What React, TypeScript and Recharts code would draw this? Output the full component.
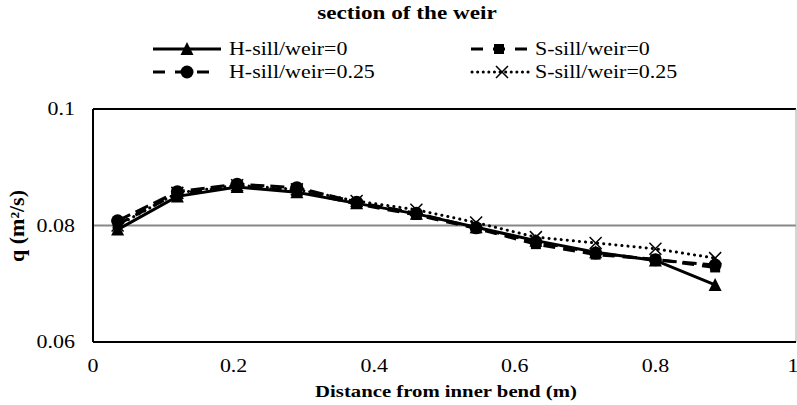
import React from "react";
import { LineChart, Line, XAxis, YAxis, CartesianGrid, ReferenceLine } from "recharts";

const distances = [0.035, 0.12, 0.205, 0.29, 0.375, 0.46, 0.545, 0.63, 0.715, 0.8, 0.885];
const hSill0 = [0.0793, 0.085, 0.0866, 0.0857, 0.0838, 0.082, 0.0797, 0.0774, 0.0754, 0.074, 0.0698];
const sSill0 = [0.0802, 0.0855, 0.0867, 0.086, 0.0837, 0.0818, 0.0795, 0.0768, 0.075, 0.0742, 0.0728];
const hSill025 = [0.0808, 0.0858, 0.0871, 0.0865, 0.084, 0.0821, 0.0796, 0.0772, 0.0753, 0.0741, 0.0732];
const sSill025 = [0.08, 0.0856, 0.0869, 0.0862, 0.0842, 0.0827, 0.0805, 0.078, 0.077, 0.076, 0.0744];
const xTicks = [0, 0.2, 0.4, 0.6, 0.8, 1];
const yTicks = [0.06, 0.08, 0.1];
const seriesNames = ["H-sill/weir=0", "S-sill/weir=0", "H-sill/weir=0.25", "S-sill/weir=0.25"];
const chartTitle = "section of the weir";
const xTitle = "Distance from inner bend (m)";
const yTitle = "q (m²/s)";

const data = distances.map((d, i) => ({
  d,
  h0: hSill0[i],
  s0: sSill0[i],
  h25: hSill025[i],
  s25: sSill025[i],
}));

const FONT = "'Liberation Serif', 'Times New Roman', serif";
const SX = 1.22;

const STxt = ({ x, y, anchor = "start", bold = false, size = 18, sx = SX, children }: any) => (
  <g transform={`translate(${x},${y}) scale(${sx},1)`}>
    <text x={0} y={0} textAnchor={anchor} fontFamily={FONT} fontWeight={bold ? "bold" : "normal"} fontSize={size} fill="#000">
      {children}
    </text>
  </g>
);

const Tri = (p: any) => {
  const { cx, cy } = p;
  if (cx == null || cy == null) return null;
  return <path d={`M${cx},${cy - 7} L${cx + 6.5},${cy + 6} L${cx - 6.5},${cy + 6} Z`} fill="#000" />;
};
const Sq = (p: any) => {
  const { cx, cy } = p;
  if (cx == null || cy == null) return null;
  return <rect x={cx - 5} y={cy - 5} width={10} height={10} fill="#000" />;
};
const Circ = (p: any) => {
  const { cx, cy } = p;
  if (cx == null || cy == null) return null;
  return <circle cx={cx} cy={cy} r={6.5} fill="#000" />;
};
const Cross = (p: any) => {
  const { cx, cy } = p;
  if (cx == null || cy == null) return null;
  return (
    <path d={`M${cx - 6},${cy - 6} L${cx + 6},${cy + 6} M${cx - 6},${cy + 6} L${cx + 6},${cy - 6}`} stroke="#000" strokeWidth={1.5} />
  );
};

const XTick = (p: any) => {
  const { x, y, payload } = p;
  return <STxt x={x} y={y + 30} anchor="middle">{String(payload.value)}</STxt>;
};
const YTick = (p: any) => {
  const { x, y, payload } = p;
  return <STxt x={x - 18} y={y + 6} anchor="end">{String(Number(Number(payload.value).toFixed(2)))}</STxt>;
};

const Overlay = () => (
  <svg width={797} height={405} style={{ position: "absolute", left: 0, top: 0, pointerEvents: "none" }}>
    <STxt x={407} y={19} anchor="middle" bold size={19}>{chartTitle}</STxt>
    <line x1={153} y1={49} x2={221} y2={49} stroke="#000" strokeWidth={3} />
    <Tri cx={187} cy={49} />
    <STxt x={229} y={55}>{seriesNames[0]}</STxt>
    <line x1={471} y1={49} x2={527} y2={49} stroke="#000" strokeWidth={3} strokeDasharray="12 10" />
    <Sq cx={499} cy={49} />
    <STxt x={535} y={55}>{seriesNames[1]}</STxt>
    <line x1={153} y1={72} x2={211} y2={72} stroke="#000" strokeWidth={3} strokeDasharray="12 10" />
    <Circ cx={187} cy={72} />
    <STxt x={229} y={78}>{seriesNames[2]}</STxt>
    <line x1={472} y1={72} x2={532} y2={72} stroke="#000" strokeWidth={3} strokeDasharray="0.1 5.5" strokeLinecap="round" />
    <Cross cx={502} cy={72} />
    <STxt x={535} y={78}>{seriesNames[3]}</STxt>
    <STxt x={446} y={397} anchor="middle" bold size={17}>{xTitle}</STxt>
    <g transform="translate(24,226) rotate(-90) scale(1.1,1)">
      <text x={0} y={0} textAnchor="middle" fontFamily={FONT} fontWeight="bold" fontSize={20} fill="#000">{yTitle}</text>
    </g>
  </svg>
);

export default function App() {
  return (
    <div style={{ position: "absolute", left: 0, top: 0, width: 797, height: 405, background: "#fff" }}>
      <LineChart width={797} height={405} data={data} margin={{ top: 109, right: 1, bottom: 33, left: 33 }}>
        <CartesianGrid horizontal vertical={false} stroke="#888" strokeWidth={2} />
        <XAxis
          dataKey="d"
          type="number"
          domain={[0, 1]}
          ticks={xTicks}
          tickLine={false}
          tickSize={0}
          tickMargin={0}
          axisLine={{ stroke: "#000", strokeWidth: 2 }}
          tick={<XTick />}
          height={30}
        />
        <YAxis
          type="number"
          domain={[0.06, 0.1]}
          ticks={yTicks}
          tickLine={false}
          tickSize={0}
          tickMargin={0}
          axisLine={{ stroke: "#000", strokeWidth: 2 }}
          tick={<YTick />}
          width={60}
        />
        <ReferenceLine y={0.1} stroke="#000" strokeWidth={2} />
        <ReferenceLine x={1} stroke="#aaa" strokeWidth={1} />
        <Line dataKey="s25" stroke="#000" strokeWidth={3} strokeDasharray="0.1 6" strokeLinecap="round" dot={<Cross />} isAnimationActive={false} />
        <Line dataKey="s0" stroke="#000" strokeWidth={3} strokeDasharray="12 8" dot={<Sq />} isAnimationActive={false} />
        <Line dataKey="h25" stroke="#000" strokeWidth={3} strokeDasharray="14 6" dot={<Circ />} isAnimationActive={false} />
        <Line dataKey="h0" stroke="#000" strokeWidth={3} dot={<Tri />} isAnimationActive={false} />
      </LineChart>
      <Overlay />
    </div>
  );
}
